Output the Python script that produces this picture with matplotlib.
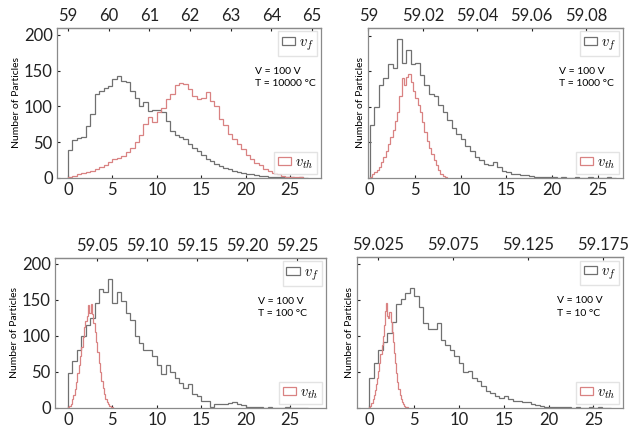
import numpy as np
import matplotlib.pyplot as plt

plt.rcParams['font.family'] = ['Lato', 'DejaVu Sans']
plt.rcParams['mathtext.fontset'] = 'cm'

# histogram counts
# v_f histograms use 0.5 wide bins starting at 0
vf_10000 = [39, 53, 56, 57, 72, 90, 118, 122, 126, 128, 138, 142, 135, 134, 122, 112,
            100, 106, 93, 95, 95, 92, 80, 65, 60, 57, 55, 48, 42, 37, 32, 27, 24, 20,
            17, 14, 12, 10, 9, 7, 6, 5, 4, 3, 3, 2, 2, 1, 1, 1, 1, 0, 1, 0]
vf_1000 = [75, 100, 130, 140, 160, 155, 195, 162, 180, 160, 162, 145, 130, 118, 115, 103,
           92, 82, 70, 62, 55, 45, 38, 30, 25, 20, 18, 22, 15, 10, 8, 6, 5, 4, 4, 3,
           2, 2, 1, 1, 1, 0, 1, 0, 0, 1, 0, 0, 1, 0, 0, 0, 1, 0]
vf_100 = [48, 65, 80, 100, 115, 125, 145, 165, 160, 178, 145, 160, 148, 132, 122, 100,
          90, 80, 80, 72, 60, 47, 60, 50, 42, 35, 28, 33, 20, 16, 10, 9, 2, 6, 6, 5,
          7, 8, 6, 4, 2, 1, 1, 1, 0, 1, 0, 0, 0, 1, 0, 0, 0, 0]
vf_10 = [42, 62, 80, 92, 104, 120, 145, 152, 160, 167, 156, 140, 118, 110, 110, 118,
         94, 88, 80, 72, 62, 50, 52, 42, 37, 30, 23, 21, 16, 14, 17, 12, 10, 9, 8, 8,
         6, 4, 3, 2, 1, 1, 2, 1, 1, 0, 1, 0, 0, 1, 0, 1, 0, 0]

# v_th histograms, each with its own bin width
vth_10000 = [2, 3, 5, 7, 8, 10, 13, 15, 18, 22, 26, 28, 31, 36, 42, 50, 60, 75, 85, 78,
             92, 98, 110, 118, 130, 133, 132, 125, 115, 110, 112, 120, 108, 100, 82,
             74, 62, 55, 47, 40, 32, 27, 21, 18, 13, 10, 7, 5, 3, 2, 2, 1, 1]
vth_1000 = [2, 5, 8, 11, 15, 22, 30, 38, 48, 58, 68, 80, 92, 115, 140, 130, 142, 146,
            135, 122, 112, 103, 92, 78, 65, 52, 42, 33, 25, 18, 11, 6, 3, 1]
vth_100 = [1, 3, 6, 12, 18, 26, 36, 48, 60, 72, 85, 98, 112, 120, 128, 142, 132, 144,
           130, 118, 105, 92, 78, 62, 50, 38, 28, 20, 13, 8, 5, 3, 1, 1]
vth_10 = [1, 3, 7, 12, 18, 25, 33, 42, 52, 63, 75, 88, 100, 115, 135, 146, 128, 125,
          134, 120, 105, 92, 76, 62, 48, 36, 26, 18, 12, 8, 5, 3, 2, 1, 1]
vth_width = [0.5, 0.25, 0.15, 0.125]

temps = ['10000', '1000', '100', '10']
vf_all = [vf_10000, vf_1000, vf_100, vf_10]
vth_all = [vth_10000, vth_1000, vth_100, vth_10]

# top axis: total speed = a + b * x
top_a = [59.0, 59.0005, 59.021, 59.019]
top_b = [0.2182, 0.003347, 0.00887, 0.005976]
top_ticks = [[59, 60, 61, 62, 63, 64, 65],
             [59, 59.02, 59.04, 59.06, 59.08],
             [59.05, 59.10, 59.15, 59.20, 59.25],
             [59.025, 59.075, 59.125, 59.175]]
top_fmt = ['{:g}', '{:g}', '{:.2f}', '{:.3f}']

# axes placement and limits
boxes = [[0.0905, 0.590, 0.419, 0.346],
         [0.584, 0.590, 0.405, 0.346],
         [0.0873, 0.060, 0.430, 0.346],
         [0.567, 0.060, 0.422, 0.348]]
xlims = [(-1.24, 28.5), (-0.2, 27.8), (-1.46, 29.05), (-1.34, 28.3)]
ytops = [210, 211, 208, 210]

gray = '#707070'
red = '#d98282'

fig = plt.figure(figsize=(6.3, 4.34), dpi=100)

for i in range(4):
    ax = fig.add_axes(boxes[i])
    vf = np.array(vf_all[i], dtype=float)
    vth = np.array(vth_all[i], dtype=float)
    e_f = np.arange(len(vf) + 1) * 0.5
    e_th = np.arange(len(vth) + 1) * vth_width[i]

    h1 = ax.hist(e_f[:-1], bins=e_f, weights=vf, histtype='step', color=gray, lw=0.9)
    h2 = ax.hist(e_th[:-1], bins=e_th, weights=vth, histtype='step', color=red, lw=0.9)

    ax.set_xlim(*xlims[i])
    ax.set_ylim(0, ytops[i])
    ax.set_xticks([0, 5, 10, 15, 20, 25])
    ax.set_yticks([0, 50, 100, 150, 200])
    ax.tick_params(direction='in', length=2, labelsize=12, colors='#222222', pad=3)
    if i in (1, 3):
        ax.tick_params(labelleft=False)
    for s in ax.spines.values():
        s.set_color('#8a8a8a')
        s.set_linewidth(0.9)
    ax.set_ylabel('Number of Particles', fontsize=7.5, labelpad=2)

    a, b = top_a[i], top_b[i]
    top = ax.secondary_xaxis('top', functions=(lambda x, a=a, b=b: a + b * x,
                                               lambda t, a=a, b=b: (t - a) / b))
    top.set_xticks(top_ticks[i])
    top.set_xticklabels([top_fmt[i].format(t) for t in top_ticks[i]])
    top.tick_params(direction='in', length=2, labelsize=12, colors='#222222', pad=3)

    leg1 = ax.legend([h1[2][0]], ['$v_f$'], loc='upper right', fontsize=10.5,
                     handlelength=0.9, handleheight=0.4, handletextpad=0.3,
                     borderpad=0.25, borderaxespad=0.25, edgecolor='#dddddd',
                     fancybox=False)
    ax.add_artist(leg1)
    ax.legend([h2[2][0]], ['$v_{th}$'], loc='lower right', fontsize=10.5,
              handlelength=0.9, handleheight=0.4, handletextpad=0.3,
              borderpad=0.25, borderaxespad=0.25, edgecolor='#dddddd',
              fancybox=False)

    ax.text(0.75, 0.67, 'V = 100 V\nT = ' + temps[i] + ' °C', transform=ax.transAxes,
            fontsize=7.5, va='center', ha='left', linespacing=1.5)

fig.savefig('out.png', dpi=100)
